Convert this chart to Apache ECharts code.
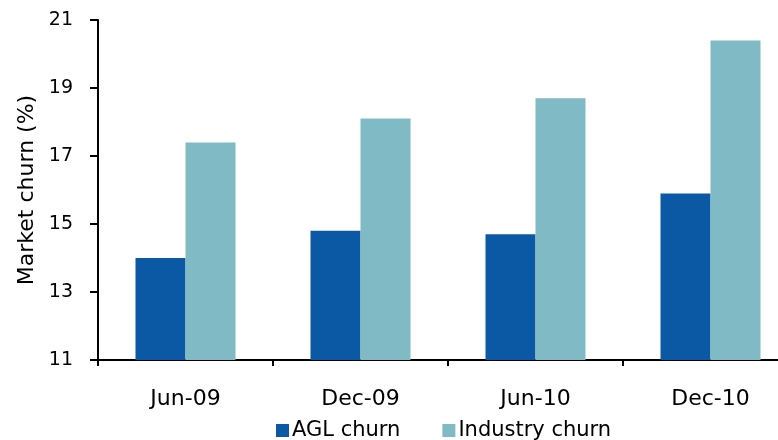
<!DOCTYPE html>
<html>
<head>
<meta charset="utf-8">
<script src="https://cdn.jsdelivr.net/npm/echarts@6/dist/echarts.min.js"></script>
<style>
  html, body { margin: 0; padding: 0; background: #fff; }
  #chart { width: 778px; height: 440px; }
</style>
</head>
<body>
<div id="chart"></div>
<script>
const categories = ['Jun-09', 'Dec-09', 'Jun-10', 'Dec-10']
const aglChurn = [14.0, 14.8, 14.7, 15.9]
const industryChurn = [17.4, 18.1, 18.7, 20.4]

const myChart = echarts.init(document.getElementById('chart'))
const font = 'Verdana, "DejaVu Sans", sans-serif'

const option = {
    animation: false,
    textStyle: { fontFamily: font },
    legend: {
        left: 271,
        top: 415,
        itemWidth: 13,
        itemHeight: 13,
        itemGap: 42,
        icon: 'rect',
        textStyle: { fontSize: 21, color: '#000', fontFamily: font, padding: [0, 0, 0, -2] },
        data: ['AGL churn', 'Industry churn']
    },
    grid: {
        left: 98,
        top: 20,
        height: 340,
        width: 700,
        outerBoundsMode: 'none'
    },
    xAxis: {
        type: 'category',
        data: categories,
        axisLine: { lineStyle: { color: '#000', width: 2 } },
        axisTick: { show: true, length: 6, lineStyle: { color: '#000', width: 2 } },
        axisLabel: { color: '#000', fontSize: 22, margin: 28, fontFamily: font }
    },
    yAxis: {
        type: 'value',
        min: 11,
        max: 21,
        interval: 2,
        name: 'Market churn (%)',
        nameLocation: 'middle',
        nameGap: 54,
        nameTextStyle: { fontSize: 22, color: '#000', fontFamily: font },
        splitLine: { show: false },
        axisLine: { show: true, lineStyle: { color: '#000', width: 2 } },
        axisTick: { show: true, length: 8, lineStyle: { color: '#000', width: 2 } },
        axisLabel: { color: '#000', fontSize: 19, margin: 25, fontFamily: font }
    },
    series: [
        {
            name: 'AGL churn',
            type: 'bar',
            data: aglChurn,
            barWidth: 50,
            barGap: '0%',
            itemStyle: { color: '#0B58A4' }
        },
        {
            name: 'Industry churn',
            type: 'bar',
            data: industryChurn,
            barWidth: 50,
            itemStyle: { color: '#80BAC4' }
        }
    ]
}

myChart.setOption(option)
</script>
</body>
</html>
